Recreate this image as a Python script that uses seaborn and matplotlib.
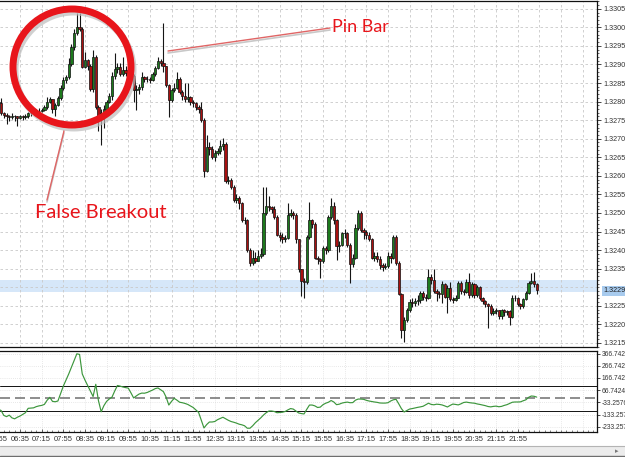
import numpy as np
import pandas as pd
import matplotlib
matplotlib.use('Agg')
import matplotlib.pyplot as plt
from matplotlib.patches import Ellipse, Rectangle
from matplotlib.lines import Line2D
from matplotlib.ticker import MultipleLocator
import seaborn as sns

# ---- data (prices as points above 1.32000, 1 point = 0.00001) ----
BASE = 1.32
POINT = 1e-5
first_open = 800
closes = [
    795, 770, 765, 760, 758, 762, 760, 757, 760, 758,
    762, 768, 770, 772, 774, 776, 778, 786, 800, 806,
    780, 792, 810, 837, 858, 866, 900, 947, 985, 1001,
    996, 894, 912, 895, 835, 920, 785, 760, 770, 780,
    800, 815, 870, 888, 892, 875, 885, 878, 885, 870,
    830, 835, 840, 865, 860, 862, 858, 875, 890, 910,
    905, 895, 845, 805, 832, 838, 862, 825, 815, 808,
    812, 800, 796, 785, 780, 751, 613, 678, 672, 650,
    662, 668, 680, 685, 585, 590, 570, 536, 540, 528,
    480, 482, 400, 365, 378, 372, 385, 390, 500, 520,
    515, 510, 490, 442, 436, 430, 432, 495, 500, 495,
    430, 350, 318, 315, 435, 480, 470, 380, 375, 370,
    405, 400, 490, 520, 480, 410, 415, 445, 447, 415,
    363, 380, 460, 500, 455, 450, 440, 430, 380, 385,
    375, 360, 355, 358, 385, 380, 436, 365, 282, 185,
    212, 238, 260, 258, 262, 265, 285, 275, 272, 328,
    320, 290, 285, 282, 310, 275, 298, 268, 265, 272,
    312, 290, 288, 315, 278, 308, 278, 300, 270, 262,
    255, 250, 230, 235, 238, 222, 238, 232, 235, 220,
    271, 272, 255, 250, 268, 285, 312, 318, 309, 293,
]
highs = [
    812, 810, 772, 768, 765, 768, 765, 762, 765, 764,
    766, 772, 776, 778, 780, 782, 784, 792, 812, 812,
    806, 796, 815, 845, 865, 872, 917, 955, 995, 1039,
    1039, 1000, 934, 915, 900, 940, 925, 790, 780, 790,
    805, 822, 880, 931, 905, 905, 920, 895, 893, 888,
    875, 845, 848, 880, 870, 870, 866, 880, 895, 920,
    915, 1012, 895, 848, 838, 850, 880, 865, 830, 850,
    850, 815, 805, 800, 790, 799, 755, 710, 690, 680,
    670, 675, 697, 702, 690, 600, 595, 575, 550, 545,
    530, 490, 485, 405, 400, 395, 400, 405, 570, 570,
    545, 520, 520, 495, 450, 445, 440, 528, 510, 505,
    500, 430, 350, 325, 440, 530, 485, 475, 385, 380,
    410, 412, 495, 541, 530, 485, 425, 450, 458, 450,
    420, 390, 470, 508, 505, 460, 455, 448, 432, 395,
    395, 385, 365, 365, 395, 392, 442, 440, 370, 285,
    220, 245, 268, 270, 272, 278, 290, 290, 282, 349,
    335, 350, 295, 290, 318, 312, 305, 314, 275, 280,
    318, 318, 295, 322, 339, 315, 312, 305, 302, 275,
    265, 258, 255, 245, 245, 240, 242, 242, 240, 240,
    278, 280, 275, 258, 272, 290, 318, 339, 342, 312,
]
lows = [
    785, 765, 755, 740, 748, 752, 748, 733, 752, 750,
    754, 756, 762, 765, 768, 770, 772, 775, 780, 795,
    770, 760, 788, 805, 832, 850, 860, 895, 940, 980,
    990, 890, 890, 885, 828, 825, 780, 720, 683, 730,
    768, 795, 805, 860, 878, 870, 870, 870, 875, 855,
    800, 778, 820, 832, 852, 852, 850, 855, 870, 888,
    895, 880, 840, 759, 800, 825, 835, 820, 805, 800,
    800, 790, 785, 778, 770, 745, 597, 610, 655, 645,
    640, 655, 660, 670, 580, 578, 565, 530, 528, 510,
    475, 470, 395, 357, 360, 365, 370, 378, 385, 495,
    505, 500, 485, 438, 425, 420, 422, 430, 490, 485,
    420, 340, 277, 271, 310, 430, 460, 375, 362, 325,
    365, 390, 395, 485, 470, 374, 395, 410, 432, 408,
    312, 355, 375, 455, 450, 430, 430, 425, 375, 370,
    368, 350, 345, 348, 352, 365, 375, 360, 278, 163,
    153, 205, 232, 248, 250, 252, 258, 265, 262, 268,
    310, 285, 262, 272, 258, 270, 231, 262, 258, 262,
    270, 282, 278, 285, 272, 275, 272, 275, 266, 255,
    248, 190, 225, 225, 228, 215, 215, 222, 225, 198,
    218, 262, 250, 242, 245, 265, 282, 308, 300, 282,
]
cci = [
    -90, -100, -140, -150, -138, -160, -168, -155, -145, -132,
    -118, -82, -80, -78, -68, -62, -58, -50, -16, 8,
    -25, -28, -22, 40, 100, 150, 200, 255, 310, 365,
    360, 200, 150, 105, 60, 15, 115, -20, -110, -60,
    -25, -5, 10, 60, 105, 100, 93, 88, 84, 45,
    3, 20, 35, 43, 42, 48, 58, 68, 80, 85,
    70, 55, 10, -55, -25, 0, -15, -32, -36, -42,
    -50, -62, -75, -95, -115, -180, -243, -215, -194, -194,
    -190, -175, -165, -155, -168, -180, -190, -196, -203, -212,
    -217, -225, -245, -245, -225, -200, -180, -160, -137, -118,
    -104, -104, -108, -118, -116, -114, -108, -95, -84, -88,
    -104, -120, -125, -128, -90, -55, -55, -62, -75, -72,
    -52, -40, -32, -18, -30, -52, -48, -39, -34, -31,
    -36, -35, -15, -6, -6, -8, -16, -22, -26, -30,
    -33, -38, -39, -39, -36, -22, -12, -8, -45, -85,
    -112, -100, -88, -84, -79, -74, -70, -65, -52, -40,
    -50, -53, -48, -50, -54, -62, -71, -58, -47, -50,
    -54, -45, -34, -31, -35, -38, -40, -46, -50, -55,
    -60, -67, -70, -66, -64, -69, -66, -58, -52, -42,
    -32, -30, -30, -29, -20, -12, 8, 19, 17, 10,
]
time_labels = ['05:55', '06:35', '07:15', '07:55', '08:35', '09:15', '09:55',
               '10:35', '11:15', '11:55', '12:35', '13:15', '13:55', '14:35',
               '15:15', '15:55', '16:35', '17:15', '17:55', '18:35', '19:15',
               '19:55', '20:35', '21:15', '21:55']
price_grid = [1.3215, 1.3220, 1.3225, 1.3230, 1.3235, 1.3240, 1.3245, 1.3250,
              1.3255, 1.3260, 1.3265, 1.3270, 1.3275, 1.3280, 1.3285, 1.3290,
              1.3295, 1.3300, 1.3305]
price_labels = [p for p in price_grid if p != 1.3230]
cci_ticks = [366.7424, 266.7424, 166.7424, 66.7424, -33.2576, -133.2576, -233.2576]
cci_levels = [100, -100]
band = (1.32287, 1.32320)
marker_price = 1.3229

df = pd.DataFrame({
    'o': [first_open] + closes[:-1], 'h': highs, 'l': lows, 'c': closes, 'cci': cci,
})
for col in 'ohlc':
    df[col] = BASE + df[col] * POINT
df['i'] = np.arange(len(df))

# ---- layout (pixels of the 625x457 canvas) ----
W, H = 625, 457
X0, DX = -1.6, 2.705          # pixel x of bar i = X0 + DX*i
XR = 597                      # right edge of plot panels

sns.set_style('white')
plt.rcParams['font.family'] = ['Liberation Sans', 'DejaVu Sans']

fig = plt.figure(figsize=(W / 100, H / 100), dpi=100)


def fbox(x0, y0, x1, y1):
    return [x0 / W, 1 - y1 / H, (x1 - x0) / W, (y1 - y0) / H]


def P(x, y):
    return (x / W, 1 - y / H)


ax = fig.add_axes(fbox(0, 1, XR, 347))
ax2 = fig.add_axes(fbox(0, 351, XR, 432))
xlim = ((0 - X0) / DX, (XR - X0) / DX)

GRID = '#c9c9c9'
BULL, BEAR = '#1d7a1d', '#a81010'

# main price panel
ax.axhspan(*band, color='#d6e7f9', zorder=0, lw=0)
for p in price_grid:
    ax.axhline(p, color=GRID, lw=0.6, ls=(0, (3, 3)), zorder=0.5)
for k in range(8, len(df) + 30, 8):
    ax.axvline(k, color=GRID, lw=0.6, ls=(0, (3, 3)), zorder=0.5)

ax.vlines(df['i'], df['l'], df['h'], color='#151515', lw=0.8, zorder=2)
up = df['c'] >= df['o']
body_lo = np.minimum(df['o'], df['c'])
body_h = np.maximum((df['c'] - df['o']).abs(), 0.000012)
ax.bar(df['i'], body_h, bottom=body_lo, width=0.85,
       color=np.where(up, BULL, BEAR), edgecolor='#111111', linewidth=0.5, zorder=3)

ax.set_xlim(*xlim)
ax.set_ylim(BASE + 139 * POINT, BASE + 1071 * POINT)
ax.set_xticks([])
ax.yaxis.tick_right()
ax.set_yticks(price_labels)
ax.set_yticklabels([f'{p:.4f}' for p in price_labels])
ax.yaxis.set_minor_locator(MultipleLocator(0.0001))
ax.tick_params(axis='y', which='major', length=3, width=0.6, pad=1.5,
               labelsize=5.2, labelcolor='#333333', right=True)
ax.tick_params(axis='y', which='minor', length=1.5, width=0.5, right=True)
ax.text(1.0101, marker_price, f'{marker_price:.4f}', transform=ax.get_yaxis_transform(),
        ha='left', va='center', fontsize=5.2, color='#222222',
        bbox=dict(boxstyle='square,pad=0.2', fc='#a8cbee', ec='none'), clip_on=False)
ax.spines['left'].set_visible(False)
for side in ['top', 'right', 'bottom']:
    ax.spines[side].set_color('#111111')
    ax.spines[side].set_linewidth(0.9)

# CCI panel
for v in cci_ticks:
    ax2.axhline(v, color='#d3d3d3', lw=0.5, ls=(0, (1, 2)), zorder=0.5)
for k in range(8, len(df) + 30, 8):
    ax2.axvline(k, color='#d3d3d3', lw=0.5, ls=(0, (1, 2)), zorder=0.5)
for v in cci_levels:
    ax2.axhline(v, color='#111111', lw=0.7, zorder=1)
ax2.axhline(0, color='#7a7a7a', lw=1.2, ls=(0, (6, 3)), zorder=1)
sns.lineplot(data=df, x='i', y='cci', ax=ax2, color='#3c963c', lw=0.85, zorder=2)
ax2.set_xlim(*xlim)
ax2.set_ylim(-276, 388)
ax2.set_xlabel('')
ax2.set_ylabel('')
ax2.yaxis.tick_right()
ax2.set_yticks(cci_ticks)
ax2.set_yticklabels([f'{v:.4f}' for v in cci_ticks])
ax2.tick_params(axis='y', length=2.5, width=0.6, pad=1.0, labelsize=4.8,
                labelcolor='#333333', right=True)
ax2.set_xticks(range(8, 8 * len(time_labels), 8))
ax2.set_xticklabels(time_labels[1:])
ax2.xaxis.set_minor_locator(MultipleLocator(2))
ax2.tick_params(axis='x', which='major', direction='in', length=2.5, width=0.5,
                pad=3, labelsize=5.5, labelcolor='#333333', bottom=True)
ax2.tick_params(axis='x', which='minor', direction='in', length=1.2, width=0.4, bottom=True)
ax2.text(0, -0.052, time_labels[0], transform=ax2.get_xaxis_transform(),
         ha='center', va='top', fontsize=5.5, color='#333333', clip_on=False)
ax2.spines['left'].set_visible(False)
for side in ['top', 'right', 'bottom']:
    ax2.spines[side].set_color('#111111')
    ax2.spines[side].set_linewidth(0.9)

# scrollbar strip at the bottom
fig.add_artist(Rectangle(P(0, 456), 1, 10 / H, transform=fig.transFigure,
                         fc='#ececec', ec='none', zorder=0))
fig.add_artist(Line2D([0, 1], [P(0, 446)[1]] * 2, transform=fig.transFigure,
                      color='#b4b4b4', lw=0.8))
fig.add_artist(Line2D([0, 1], [P(0, 455.5)[1]] * 2, transform=fig.transFigure,
                      color='#6e6e6e', lw=1.0))
fig.text(*P(617, 451), '▸', fontsize=5, color='#777777', ha='center', va='center',
         family=['DejaVu Sans'])

# annotations
RED = '#e8151b'
fig.add_artist(Ellipse(P(74, 70), 118 / W, 116 / H, transform=fig.transFigure,
                       fill=False, ec='#bdbdbd', lw=5, alpha=0.7, zorder=5))
fig.add_artist(Ellipse(P(72, 67), 118 / W, 116 / H, transform=fig.transFigure,
                       fill=False, ec=RED, lw=5, zorder=6))
for (xa, ya), (xb, yb) in [((168, 51), (330, 28)), ((64, 131), (47, 200))]:
    fig.add_artist(Line2D([P(xa, ya + 2)[0], P(xb, yb + 2)[0]],
                          [P(xa, ya + 2)[1], P(xb, yb + 2)[1]],
                          transform=fig.transFigure, color='#c8c8c8', lw=1.2, zorder=5))
    fig.add_artist(Line2D([P(xa, ya)[0], P(xb, yb)[0]], [P(xa, ya)[1], P(xb, yb)[1]],
                          transform=fig.transFigure, color='#e06565', lw=1.0, zorder=6))
fig.text(*P(360, 27), 'Pin Bar', fontsize=13, color=RED, ha='center', va='center',
         family=['Lato', 'DejaVu Sans'], zorder=7)
fig.text(*P(101, 212), 'False Breakout', fontsize=14.5, color=RED, ha='center',
         va='center', family=['Lato', 'DejaVu Sans'], zorder=7)

fig.savefig('out.png', dpi=100)
